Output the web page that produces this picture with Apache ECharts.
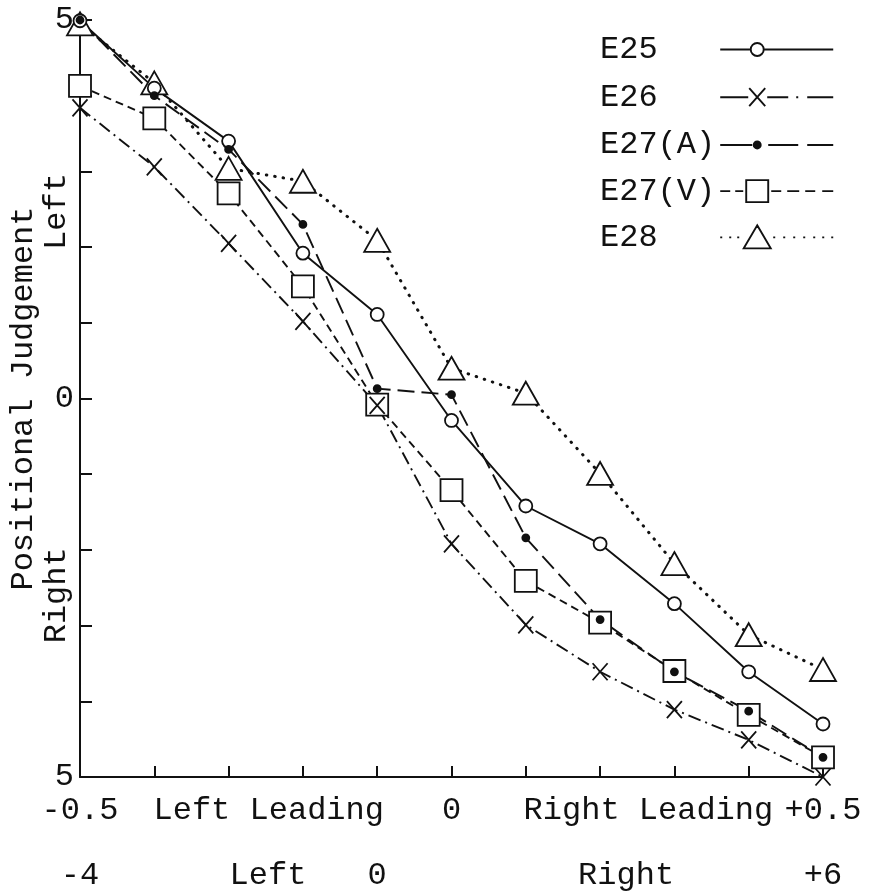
<!DOCTYPE html>
<html>
<head>
<meta charset="utf-8">
<script src="https://cdn.jsdelivr.net/npm/echarts@6/dist/echarts.min.js"></script>
<style>
  html, body { margin: 0; padding: 0; background: #fff; }
  #chart { width: 881px; height: 893px; }
</style>
</head>
<body>
<div id="chart"></div>
<script>
// Stimulus positions along the horizontal axis
const xPositions = [0, 1, 2, 3, 4, 5, 6, 7, 8, 9, 10];

// Positional judgement per condition (+5 = Left, -5 = Right)
const e25  = [4.99, 4.10, 3.40, 1.92, 1.11, -0.29, -1.42, -1.92, -2.71, -3.61, -4.30];
const e26  = [3.84, 3.06, 2.05, 1.02, -0.09, -1.92, -2.99, -3.61, -4.11, -4.51, -5.00];
const e27a = [5.00, 4.00, 3.29, 2.30, 0.13, 0.05, -1.84, -2.92, -3.61, -4.13, -4.74];
const e27v = [4.13, 3.70, 2.71, 1.48, -0.08, -1.21, -2.41, -2.96, -3.60, -4.18, -4.74];
const e28  = [4.95, 4.17, 3.04, 2.87, 2.09, 0.40, 0.07, -0.99, -2.18, -3.12, -3.58];

const seriesNames = ['E25', 'E26', 'E27(A)', 'E27(V)', 'E28'];

// Upper row of x labels (time lead) and lower row (position)
const topLabelAt   = [0, 2.54, 5, 7.65, 10];
const topLabelText = ['-0.5', 'Left Leading', '0', 'Right Leading', '+0.5'];
const lowLabelAt   = [0, 2.53, 4, 7.35, 10];
const lowLabelText = ['-4', 'Left', '0', 'Right', '+6'];

// Y tick labels and the side words along the y axis
const yLabelAt = [-5, 0, 5];
const yLabelText = ['5', '0', '5'];
const sideWords = ['Left', 'Right'];
const sideWordAt = [2.47, -2.6];

const FONT = 'Liberation Mono';
const INK = '#111';

// Marker shapes drawn in a 28x28 box (the two leading moves fix the box)
const BOX = 'M0 0M28 28';
const SYM_CIRCLE = 'path://' + BOX + 'M20.5 14A6.5 6.5 0 1 1 7.5 14A6.5 6.5 0 1 1 20.5 14Z';
const SYM_CROSS  = 'path://' + BOX + 'M6.5 5.5L21.5 22.5M21.5 5.5L6.5 22.5';
const SYM_DOT    = 'path://' + BOX + 'M17.5 14A3.5 3.5 0 1 1 10.5 14A3.5 3.5 0 1 1 17.5 14Z';
const SYM_SQUARE = 'path://' + BOX + 'M3 3L25 3L25 25L3 25Z';
const SYM_TRI    = 'path://' + BOX + 'M14 2.5L27 25.5L1 25.5Z';

// Legend keys: a 113x35 strip with the line pattern and the marker near its left third
const KEY = 'M0 0M113 35';
function segs(list) { return list.map(s => 'M' + s[0] + ' 17.5L' + s[1] + ' 17.5').join(''); }
const KEY_E25  = 'path://' + KEY + segs([[0, 30.5], [43.5, 113]]) +
  'M43.5 17.5A6.5 6.5 0 1 1 30.5 17.5A6.5 6.5 0 1 1 43.5 17.5Z';
const KEY_E26  = 'path://' + KEY + segs([[0, 28], [47, 68], [76, 78], [87, 113]]) +
  'M29 8.5L45 26.5M45 8.5L29 26.5';
const KEY_E27A = 'path://' + KEY + segs([[0, 32], [48, 78], [87, 113]]) +
  'M40.5 17.5A3.5 3.5 0 1 1 33.5 17.5A3.5 3.5 0 1 1 40.5 17.5Z';
const KEY_E27V = 'path://' + KEY + segs([[0, 10], [15, 23], [51, 61], [67, 79], [85, 95], [102, 113]]) +
  'M26 6.5L48 6.5L48 28.5L26 28.5Z';
const KEY_E28  = 'path://' + KEY + segs([[0, 2], [9, 11], [17, 19], [53, 55], [63, 65], [73, 75], [83, 85], [93, 95], [102, 104], [111, 113]]) +
  'M37 5.5L50.5 28.5L23.5 28.5Z';
const legendKeys = [KEY_E25, KEY_E26, KEY_E27A, KEY_E27V, KEY_E28];

function pairs(vals) { return xPositions.map((x, i) => [x, vals[i]]); }

function lineSeries(name, vals, symbol, fill, dash, width, cap) {
  return {
    name: name,
    type: 'line',
    data: pairs(vals),
    symbol: symbol,
    symbolSize: 28,
    symbolKeepAspect: true,
    showAllSymbol: true,
    animation: false,
    itemStyle: { color: fill, borderColor: INK, borderWidth: 1.8 },
    lineStyle: { color: INK, width: width, type: dash, cap: cap || 'butt' },
    emphasis: { disabled: true }
  };
}

const chart = echarts.init(document.getElementById('chart'), null, { renderer: 'canvas' });

const option = {
  backgroundColor: '#fff',
  animation: false,
  grid: { left: 76, right: 58, top: 20, bottom: 116 },
  legend: {
    orient: 'vertical',
    left: 595,
    top: 26,
    align: 'right',
    itemWidth: 113,
    itemHeight: 35,
    itemGap: 9.3,
    selectedMode: false,
    symbolKeepAspect: true,
    itemStyle: { borderColor: INK, borderWidth: 1.9 },
    data: seriesNames.map((n, i) => ({ name: n, icon: legendKeys[i] })),
    formatter: n => n.padEnd(6, ' '),
    textStyle: { fontFamily: FONT, fontSize: 32, color: INK, lineHeight: 35 }
  },
  xAxis: [
    {
      type: 'value', min: 0, max: 10, interval: 1,
      position: 'bottom',
      axisLine: { show: true, onZero: false, lineStyle: { color: INK, width: 2 } },
      axisTick: { show: true, inside: true, length: 11, lineStyle: { color: INK, width: 2 } },
      splitLine: { show: false },
      axisLabel: {
        customValues: topLabelAt,
        formatter: v => topLabelText[topLabelAt.indexOf(v)],
        fontFamily: FONT, fontSize: 32, color: INK,
        verticalAlign: 'middle', lineHeight: 32, margin: 34
      }
    },
    {
      type: 'value', min: 0, max: 10, interval: 1,
      position: 'bottom', offset: 65,
      axisLine: { show: false },
      axisTick: { show: false },
      splitLine: { show: false },
      axisLabel: {
        customValues: lowLabelAt,
        formatter: v => lowLabelText[lowLabelAt.indexOf(v)],
        fontFamily: FONT, fontSize: 32, color: INK,
        verticalAlign: 'middle', lineHeight: 32, margin: 34
      }
    }
  ],
  yAxis: {
    type: 'value', min: -5, max: 5, interval: 1,
    axisLine: { show: true, onZero: false, lineStyle: { color: INK, width: 2 } },
    axisTick: { show: true, inside: true, length: 12, lineStyle: { color: INK, width: 2 } },
    splitLine: { show: false },
    axisLabel: {
      customValues: yLabelAt,
      formatter: v => yLabelText[yLabelAt.indexOf(v)],
      fontFamily: FONT, fontSize: 32, color: INK, margin: 6
    },
    name: 'Positional Judgement',
    nameLocation: 'middle',
    nameRotate: 90,
    nameGap: 40,
    nameTextStyle: { fontFamily: FONT, fontSize: 32, color: INK }
  },
  series: [
    lineSeries('E28', e28, SYM_TRI, '#fff', [0.5, 8], 3, 'round'),
    lineSeries('E27(V)', e27v, SYM_SQUARE, '#fff', [8, 5], 1.9),
    lineSeries('E25', e25, SYM_CIRCLE, '#fff', 'solid', 1.9),
    lineSeries('E26', e26, SYM_CROSS, 'none', [13, 5, 2, 5], 1.9),
    lineSeries('E27(A)', e27a, SYM_DOT, INK, [17, 7], 1.9)
  ]
};

chart.setOption(option);

// Side words next to the y axis, placed at their axis values
chart.setOption({
  graphic: sideWords.map((w, i) => {
    const p = chart.convertToPixel({ gridIndex: 0 }, [0, sideWordAt[i]]);
    return {
      type: 'text',
      x: 57,
      y: p[1],
      rotation: Math.PI / 2,
      style: {
        text: w,
        fontFamily: FONT,
        fontSize: 32,
        fill: INK,
        align: 'center',
        verticalAlign: 'middle'
      }
    };
  })
});
</script>
</body>
</html>
